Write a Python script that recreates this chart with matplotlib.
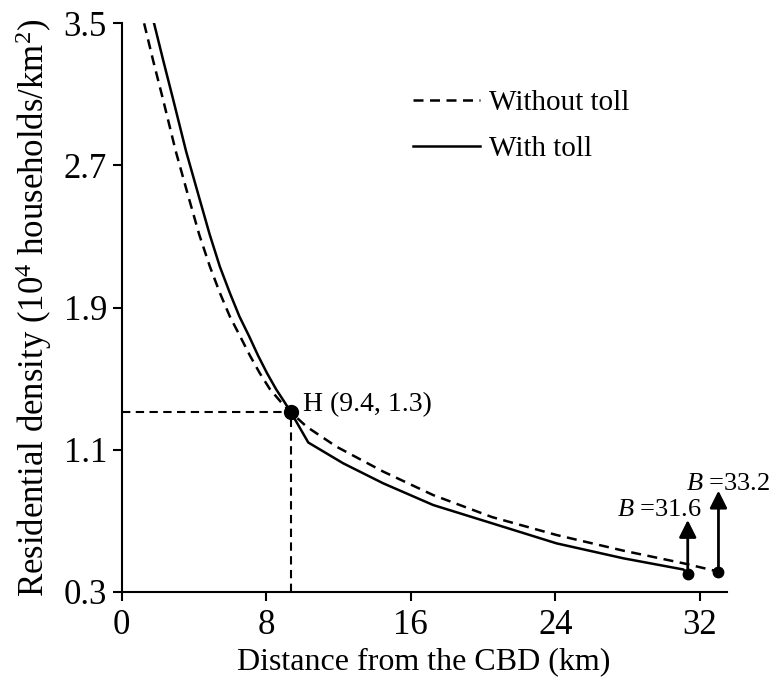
import matplotlib
matplotlib.use("Agg")
import matplotlib.pyplot as plt

plt.rcParams['font.family'] = ['Liberation Serif', 'DejaVu Serif']
plt.rcParams['mathtext.fontset'] = 'custom'
plt.rcParams['mathtext.rm'] = 'Liberation Serif'
plt.rcParams['mathtext.it'] = 'Liberation Serif:italic'

# curves (km, 10^4 households/km^2)
no_toll_x = [1.25, 1.75, 2.30, 3.00, 3.74, 4.30, 4.89, 5.45, 5.99, 6.55,
             7.10, 7.65, 8.21, 8.80, 9.37, 10.24, 11.9, 14.48, 17.24, 20.5,
             24.07, 27.76, 31.08, 33.02]
no_toll_y = [3.50, 3.29, 3.07, 2.78, 2.51, 2.31, 2.13, 1.98, 1.85, 1.74,
             1.63, 1.53, 1.44, 1.37, 1.31, 1.229, 1.116, 0.976, 0.844, 0.72,
             0.619, 0.531, 0.46, 0.413]

toll_x = [1.80, 2.31, 2.86, 3.57, 4.32, 4.88, 5.44, 6.00, 6.52, 7.05,
          7.55, 8.05, 8.55, 9.00, 9.37, 10.33, 12.26, 14.48, 17.24, 20.5,
          24.07, 27.76, 31.08, 31.32]
toll_y = [3.50, 3.29, 3.07, 2.78, 2.51, 2.31, 2.13, 1.98, 1.85, 1.74,
          1.63, 1.53, 1.44, 1.37, 1.31, 1.14, 1.023, 0.91, 0.788, 0.685,
          0.572, 0.488, 0.425, 0.40]

h_point = (9.4, 1.31)
boundary_toll = (31.32, 0.40)
boundary_no_toll = (33.02, 0.413)
arrow_tips = [0.704, 0.869]

x_ticks = [0, 8, 16, 24, 32]
y_ticks = [0.3, 1.1, 1.9, 2.7, 3.5]

fig = plt.figure(figsize=(7.74, 6.82), dpi=100)
ax = fig.add_axes([0.157, 0.1324, 0.782, 0.8334])

dash = (4, 2.6)
ax.plot(no_toll_x, no_toll_y, color='black', lw=1.8, linestyle=(0, dash),
        label='Without toll')
ax.plot(toll_x, toll_y, color='black', lw=1.8, label='With toll')

# point H and its guide lines
ax.plot([0, h_point[0]], [h_point[1], h_point[1]], color='black', lw=1.5,
        linestyle=(0, dash))
ax.plot([h_point[0], h_point[0]], [0.3, h_point[1]], color='black', lw=1.5,
        linestyle=(0, dash))
ax.plot(*h_point, 'o', color='black', ms=10)
ax.text(10.02, 1.319, 'H (9.4, 1.3)', fontsize=20, va='baseline')

# city boundaries
for (bx, by), tip in zip([boundary_toll, boundary_no_toll], arrow_tips):
    ax.plot(bx, by, 'o', color='black', ms=7.5, clip_on=False)
    ax.annotate('', xy=(bx, tip), xytext=(bx, by),
                arrowprops=dict(arrowstyle='-|>', color='black', lw=2,
                                mutation_scale=26, shrinkA=0, shrinkB=0),
                annotation_clip=False)
ax.text(32.1, 0.726, '$B$ =31.6', fontsize=19, ha='right', va='baseline')
ax.text(31.23, 0.873, '$B$ =33.2', fontsize=19, ha='left', va='baseline',
        clip_on=False)

ax.set_xlim(0, 33.48)
ax.set_ylim(0.3, 3.5)
ax.set_xticks(x_ticks)
ax.set_yticks(y_ticks)
ax.set_yticklabels(['%.1f' % v for v in y_ticks])
ax.spines['top'].set_visible(False)
ax.spines['right'].set_visible(False)
for s in ['left', 'bottom']:
    ax.spines[s].set_linewidth(1.5)
ax.tick_params(direction='out', length=6.5, width=1.5, labelsize=25)
ax.tick_params(axis='x', pad=6)
ax.tick_params(axis='y', pad=4)

ax.set_xlabel('Distance from the CBD (km)', fontsize=23, labelpad=4)
ax.set_ylabel('Residential density (10$^4$ households/km$^2$)', fontsize=25,
              labelpad=7)

leg = ax.legend(loc='upper left', bbox_to_anchor=(413 / 774, 1 - 90 / 682),
                bbox_transform=fig.transFigure, frameon=False, fontsize=21,
                handlelength=2.3, handletextpad=0.3, labelspacing=0.65,
                borderpad=0, borderaxespad=0)

fig.savefig('out.png', dpi=100)
